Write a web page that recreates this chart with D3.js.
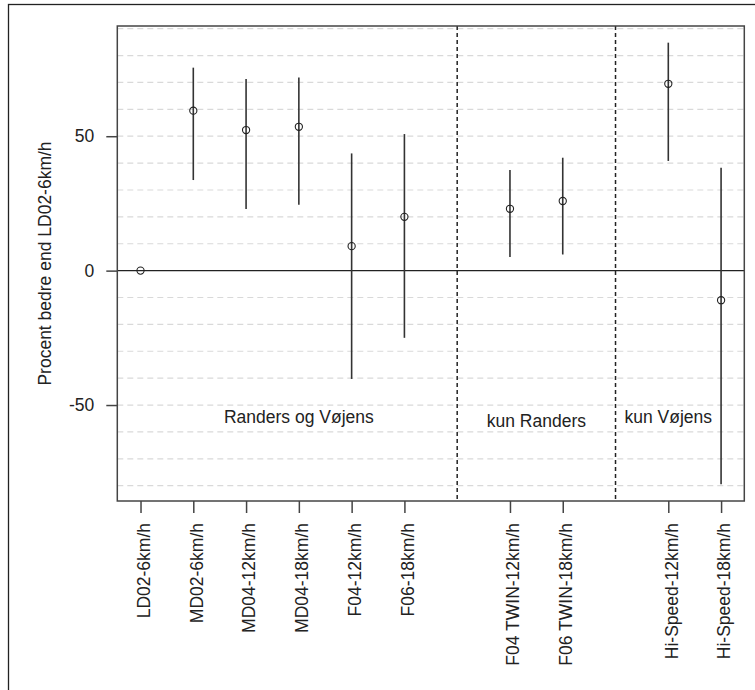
<!DOCTYPE html>
<html>
<head>
<meta charset="utf-8">
<script src="https://cdn.jsdelivr.net/npm/d3@7.9.0/dist/d3.min.js"></script>
<style>
  body { margin: 0; background: #fff; }
  svg { display: block; font-family: "Liberation Sans", Arial, sans-serif; }
</style>
</head>
<body>
<svg id="chart" width="755" height="690"></svg>
<script>
// model names and where they sit on the x axis (7 and 10 are the group breaks)
const models = ['LD02-6km/h', 'MD02-6km/h', 'MD04-12km/h', 'MD04-18km/h', 'F04-12km/h',
  'F06-18km/h', 'F04 TWIN-12km/h', 'F06 TWIN-18km/h', 'Hi-Speed-12km/h', 'Hi-Speed-18km/h'];
const xPos = [1, 2, 3, 4, 5, 6, 8, 9, 11, 12];

// percent better than LD02-6km/h, with lower/upper interval ends
const estimates = [0, 59.5, 52.3, 53.5, 9.1, 20.0, 23.0, 25.9, 69.5, -11.0];
const lower = [0, 33.7, 22.9, 24.5, -40.3, -25.0, 5.1, 6.0, 40.8, -79.5];
const upper = [0, 75.5, 71.3, 71.8, 43.6, 50.8, 37.4, 42.0, 84.8, 38.3];

const groupBreaks = [7, 10];
const groupLabels = ['Randers og Vøjens', 'kun Randers', 'kun Vøjens'];
const groupLabelX = [4, 8.5, 11];
const groupLabelY = [-54.5, -56, -54.5];

const yTicks = [-50, 0, 50];
const gridLevels = [-80, -70, -60, -50, -40, -30, -20, -10, 10, 20, 30, 40, 50, 60, 70, 80, 90];

const svg = d3.select('#chart');
const pLeft = 117.3, pRight = 744.3, pTop = 26, pBottom = 501;

let x = d3.scaleLinear().domain([0.56, 12.44]).range([pLeft, pRight]);
let y = d3.scaleLinear().domain([-85.7, 91]).range([pBottom, pTop]);

// outer frame (cut off at right and bottom)
svg.append('rect')
  .attr('x', 8.5).attr('y', 4.5)
  .attr('width', 900).attr('height', 900)
  .attr('fill', 'none').attr('stroke', '#222').attr('stroke-width', 1.3);

// dashed grid
svg.append('g').selectAll('line')
  .data(gridLevels)
  .join('line')
  .attr('x1', pLeft).attr('x2', pRight)
  .attr('y1', d => y(d)).attr('y2', d => y(d))
  .attr('stroke', '#d9d9d9').attr('stroke-width', 1.2)
  .attr('stroke-dasharray', '6,4');

// zero line
svg.append('line')
  .attr('x1', pLeft).attr('x2', pRight)
  .attr('y1', y(0)).attr('y2', y(0))
  .attr('stroke', '#222').attr('stroke-width', 1.4);

// group separators
svg.append('g').selectAll('line')
  .data(groupBreaks)
  .join('line')
  .attr('x1', d => x(d)).attr('x2', d => x(d))
  .attr('y1', pTop).attr('y2', pBottom)
  .attr('stroke', '#222').attr('stroke-width', 1.5)
  .attr('stroke-dasharray', '4,3');

// intervals
svg.append('g').selectAll('line')
  .data(models.map((m, i) => i).filter(i => upper[i] !== lower[i]))
  .join('line')
  .attr('x1', i => x(xPos[i])).attr('x2', i => x(xPos[i]))
  .attr('y1', i => y(lower[i])).attr('y2', i => y(upper[i]))
  .attr('stroke', '#333').attr('stroke-width', 1.6);

// point estimates
svg.append('g').selectAll('circle')
  .data(estimates)
  .join('circle')
  .attr('cx', (d, i) => x(xPos[i]))
  .attr('cy', d => y(d))
  .attr('r', 3.6)
  .attr('fill', 'none').attr('stroke', '#222').attr('stroke-width', 1.1);

// plot box
svg.append('rect')
  .attr('x', pLeft).attr('y', pTop)
  .attr('width', pRight - pLeft).attr('height', pBottom - pTop)
  .attr('fill', 'none').attr('stroke', '#444').attr('stroke-width', 1.5);

// y axis (plain hyphen for negatives, as in the original)
let yAxis = svg.append('g')
  .attr('transform', `translate(${pLeft},0)`)
  .call(d3.axisLeft(y).tickValues(yTicks).tickSize(11).tickPadding(12).tickFormat(d => String(d)));
yAxis.select('.domain').remove();
yAxis.selectAll('line').attr('stroke', '#444').attr('stroke-width', 1.5);
yAxis.selectAll('text')
  .attr('font-family', '"Liberation Sans", Arial, sans-serif')
  .attr('font-size', 17.5).attr('fill', '#222');

// x axis
let xAxis = svg.append('g')
  .attr('transform', `translate(0,${pBottom})`)
  .call(d3.axisBottom(x).tickValues(xPos).tickSize(12).tickFormat((d, i) => models[i]));
xAxis.select('.domain').remove();
xAxis.selectAll('line').attr('stroke', '#444').attr('stroke-width', 1.5);
xAxis.selectAll('text')
  .attr('font-family', '"Liberation Sans", Arial, sans-serif')
  .attr('font-size', 17.5).attr('fill', '#222')
  .attr('text-anchor', 'end')
  .attr('transform', 'translate(0,22) rotate(-90)')
  .attr('x', 0).attr('y', 0).attr('dy', '0.5em');

// y axis title
svg.append('text')
  .attr('transform', `translate(51,${(pTop + pBottom) / 2}) rotate(-90)`)
  .attr('text-anchor', 'middle')
  .attr('font-size', 17.5).attr('fill', '#222')
  .text('Procent bedre end LD02-6km/h');

// group labels
svg.append('g').selectAll('text')
  .data(groupLabels)
  .join('text')
  .attr('x', (d, i) => x(groupLabelX[i]))
  .attr('y', (d, i) => y(groupLabelY[i]))
  .attr('dy', '0.35em')
  .attr('text-anchor', 'middle')
  .attr('font-size', 17.5).attr('fill', '#222')
  .text(d => d);
</script>
</body>
</html>
